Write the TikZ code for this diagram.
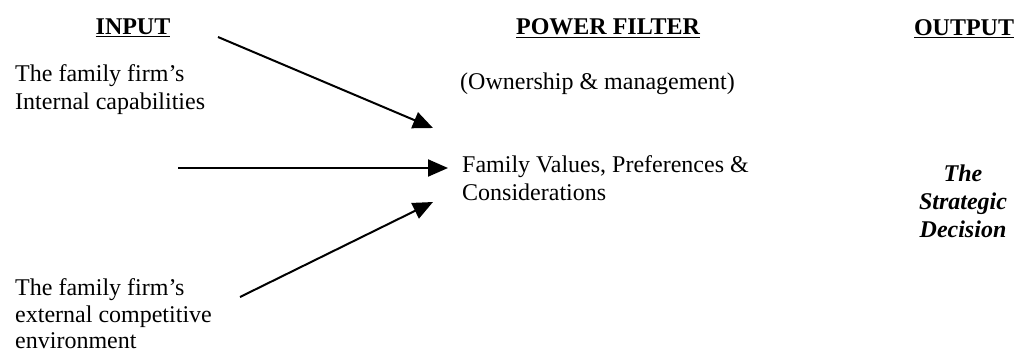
\documentclass[tikz,border=0pt]{standalone}
\usepackage{fontspec}
\setmainfont{Liberation Serif}
\usetikzlibrary{arrows.meta}
\begin{document}
\begin{tikzpicture}[x=1pt,y=-1pt,
  txt/.style={inner sep=0pt,align=left,font=\fontsize{24}{28}\selectfont},
  head/.style={inner sep=0pt,font=\fontsize{24}{28}\selectfont\bfseries},
  outtxt/.style={inner sep=0pt,align=center,font=\fontsize{24}{28}\selectfont\bfseries\itshape},
  flow/.style={line width=2pt,-{Triangle[length=20pt,width=17pt]}}]
\useasboundingbox (0,0) rectangle (1014,353);

% column headings
\node[head,anchor=base] (inhead) at (133,35) {\underline{INPUT}};
\node[head,anchor=base] (pfhead) at (608,35) {\underline{POWER FILTER}};
\node[head,anchor=base] (outhead) at (964,36) {\underline{OUTPUT}};

% inputs (multi-line texts placed by the bottom of their last line)
\node[txt,anchor=south west] (internal) at (15,115) {The family firm's\\Internal capabilities};
\node[txt,anchor=south west,font=\fontsize{24}{26.5}\selectfont] (external) at (15,349) {The family firm's\\external competitive\\environment};

% power filter
\node[txt,anchor=base west] (owner) at (460,89) {(Ownership \& management)};
\node[txt,anchor=south west] (values) at (462,201) {Family Values, Preferences \&\\Considerations};

% output
\node[outtxt,anchor=south] (decision) at (963,238) {The\\Strategic\\Decision};

% arrow ends
\coordinate (a1s) at (218,37);
\coordinate (a1e) at (433,128);
\coordinate (a2s) at (178,168);
\coordinate (a2e) at (448,168);
\coordinate (a3s) at (240,297);
\coordinate (a3e) at (433,202);

\draw[flow] (a1s) -- (a1e);
\draw[flow] (a2s) -- (a2e);
\draw[flow] (a3s) -- (a3e);
\end{tikzpicture}
\end{document}
